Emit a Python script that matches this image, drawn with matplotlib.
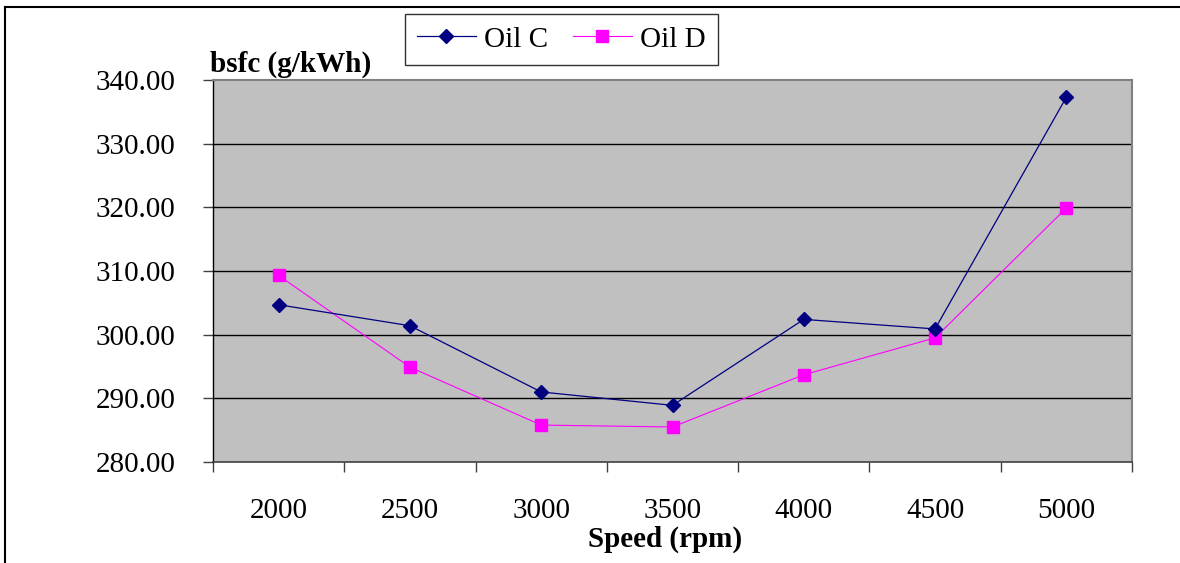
import matplotlib
matplotlib.use("Agg")
import matplotlib.pyplot as plt
from matplotlib.lines import Line2D
from matplotlib.ticker import FixedLocator, FuncFormatter

categories = ["2000", "2500", "3000", "3500", "4000", "4500", "5000"]
oil_c = [304.7, 301.4, 291.0, 288.9, 302.4, 300.9, 337.3]
oil_d = [309.3, 294.9, 285.8, 285.5, 293.7, 299.5, 319.9]
y_ticks = [280, 290, 300, 310, 320, 330, 340]
series_names = ["Oil C", "Oil D"]

plt.rcParams["font.family"] = ["Liberation Serif", "DejaVu Serif"]
FS = 21

W, H = 1180, 563
fig = plt.figure(figsize=(W / 100, H / 100), dpi=100)
ax = fig.add_axes([213 / W, 1 - 462 / H, (1132 - 213) / W, (462 - 80) / H])
ax.set_facecolor("#C0C0C0")

x = list(range(len(categories)))
ax.plot(x, oil_c, color="#000080", lw=0.9, marker="D", ms=6.8,
        markeredgecolor="#000080", markerfacecolor="#000080", label=series_names[0], zorder=4)
ax.plot(x, oil_d, color="#FF00FF", lw=0.8, marker="s", ms=8.6,
        markeredgecolor="#FF00FF", markerfacecolor="#FF00FF", label=series_names[1], zorder=3)

ax.set_xlim(-0.5, len(categories) - 0.5)
ax.set_ylim(280, 340)
ax.set_yticks(y_ticks)
ax.yaxis.set_major_formatter(FuncFormatter(lambda v, p: f"{v:.2f}"))
for yv in y_ticks[1:-1]:
    ax.axhline(yv, color="black", lw=1.0, zorder=1)

ax.set_xticks(x)
ax.set_xticklabels(categories)
ax.xaxis.set_minor_locator(FixedLocator([i - 0.5 for i in range(len(categories) + 1)]))
ax.tick_params(axis="x", which="major", length=0, pad=26, labelsize=FS)
ax.tick_params(axis="x", which="minor", length=7.2, width=1.0, color="#404040", direction="out")
ax.tick_params(axis="y", which="major", length=7.2, width=1.0, color="#404040", pad=20, labelsize=FS)

for side in ["top", "right"]:
    ax.spines[side].set_color("#808080")
    ax.spines[side].set_linewidth(1.5)
ax.spines["left"].set_color("#000000")
ax.spines["left"].set_linewidth(1.0)
ax.spines["bottom"].set_color("#404040")
ax.spines["bottom"].set_linewidth(1.2)

fig.text(210 / W, 1 - 72 / H, "bsfc (g/kWh)", fontsize=FS, fontweight="bold",
         ha="left", va="baseline")
fig.text(665 / W, 1 - 547 / H, "Speed (rpm)", fontsize=FS, fontweight="bold",
         ha="center", va="baseline")

leg = ax.legend(loc="upper left", bbox_to_anchor=(405 / W, 1 - 14 / H),
                bbox_transform=fig.transFigure, ncol=2, fontsize=FS,
                frameon=True, fancybox=False, borderpad=0.42, handlelength=2.0,
                handletextpad=0.3, columnspacing=0.85, borderaxespad=0)
leg.get_frame().set_edgecolor("black")
leg.get_frame().set_linewidth(1.0)
leg.get_frame().set_facecolor("white")

fig.add_artist(Line2D([5 / W, 1.0], [1 - 6.5 / H, 1 - 6.5 / H], transform=fig.transFigure,
                      color="black", lw=1.5))
fig.add_artist(Line2D([5 / W, 5 / W], [0, 1 - 6.5 / H], transform=fig.transFigure,
                      color="black", lw=1.5))

fig.savefig("out.png", dpi=100)
